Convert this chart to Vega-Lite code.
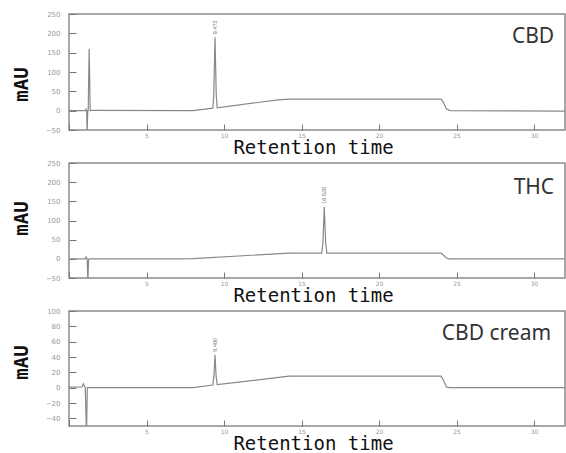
{
  "$schema": "https://vega.github.io/schema/vega-lite/v6.json",
  "padding": {"left": 11, "top": 9, "right": 0, "bottom": 0},
  "spacing": 33,
  "bounds": "flush",
  "config": {
    "view": {"stroke": "#8c8c8c", "strokeWidth": 1.5},
    "axis": {"domain": false, "tickColor": "#777", "tickWidth": 1, "labelColor": "#999", "labelFont": "DejaVu Sans", "labelFontSize": 6, "grid": false, "labelFlush": false, "labelOverlap": false},
    "axisX": {"offset": -6, "tickSize": 6, "labelPadding": 2, "titleFont": "DejaVu Sans Mono", "titleFontSize": 19, "titleFontWeight": "normal", "titleColor": "#111", "titlePadding": 0, "titleX": 244, "titleAlign": "center", "labelExpr": "datum.value == 0 ? '' : datum.label"},
    "axisY": {"offset": -7, "tickSize": 7, "labelPadding": 9, "labelFontSize": 7, "titleFont": "DejaVu Sans Mono", "titleFontSize": 19, "titleFontWeight": "bold", "titleColor": "#111", "titlePadding": 14}
  },
  "datasets": {
    "cbd": [
      {"t": 0, "v": 0}, {"t": 1.05, "v": 0}, {"t": 1.1, "v": 4}, {"t": 1.14, "v": 0}, {"t": 1.17, "v": -60}, {"t": 1.21, "v": 0},
      {"t": 1.24, "v": 0}, {"t": 1.3, "v": 160}, {"t": 1.37, "v": 0}, {"t": 1.5, "v": 1}, {"t": 8, "v": 0},
      {"t": 9.28, "v": 6.5}, {"t": 9.34, "v": 40}, {"t": 9.42, "v": 190}, {"t": 9.5, "v": 40}, {"t": 9.56, "v": 7.5},
      {"t": 13.5, "v": 28}, {"t": 14.2, "v": 30}, {"t": 24.0, "v": 30}, {"t": 24.15, "v": 22}, {"t": 24.35, "v": 4},
      {"t": 24.6, "v": 0}, {"t": 32, "v": -1}
    ],
    "thc": [
      {"t": 0, "v": 0}, {"t": 1.05, "v": 0}, {"t": 1.1, "v": 5}, {"t": 1.17, "v": 0}, {"t": 1.22, "v": -60},
      {"t": 1.26, "v": -2}, {"t": 1.32, "v": 0}, {"t": 7, "v": 0}, {"t": 8, "v": 0.5}, {"t": 14.2, "v": 15},
      {"t": 16.3, "v": 15}, {"t": 16.38, "v": 40}, {"t": 16.47, "v": 136}, {"t": 16.56, "v": 40}, {"t": 16.64, "v": 15},
      {"t": 24.0, "v": 15}, {"t": 24.15, "v": 10}, {"t": 24.35, "v": 2}, {"t": 24.5, "v": 0}, {"t": 32, "v": 0}
    ],
    "cream": [
      {"t": 0, "v": 0.8}, {"t": 0.85, "v": 1}, {"t": 0.93, "v": 5}, {"t": 1.05, "v": 0}, {"t": 1.13, "v": -60},
      {"t": 1.18, "v": 0}, {"t": 8, "v": 0}, {"t": 9.28, "v": 3.5}, {"t": 9.35, "v": 15}, {"t": 9.42, "v": 43},
      {"t": 9.49, "v": 15}, {"t": 9.56, "v": 4}, {"t": 14.2, "v": 15}, {"t": 24.0, "v": 15}, {"t": 24.15, "v": 10},
      {"t": 24.35, "v": 1}, {"t": 24.55, "v": 0}, {"t": 32, "v": 0}
    ],
    "cbdpk": [{"t": 9.42, "v": 190, "label": "9.472"}],
    "thcpk": [{"t": 16.47, "v": 136, "label": "16.528"}],
    "creampk": [{"t": 9.42, "v": 43, "label": "9.480"}]
  },
  "vconcat": [
    {
      "width": 496, "height": 116,
      "layer": [
        {"data": {"name": "cbd"}, "mark": {"type": "line", "color": "#888", "strokeWidth": 1.2, "clip": true},
         "encoding": {
           "x": {"field": "t", "type": "quantitative", "scale": {"domain": [0, 32], "nice": false}, "axis": {"tickCount": 6, "title": "Retention time"}},
           "y": {"field": "v", "type": "quantitative", "scale": {"domain": [-50, 250], "nice": false}, "axis": {"tickCount": 6, "title": "mAU", "titleY": 70}}
         }},
        {"data": {"values": [{"name": "CBD"}]}, "mark": {"type": "text", "align": "right", "baseline": "alphabetic", "font": "Noto Sans", "fontSize": 21, "color": "#333"},
         "encoding": {"x": {"datum": 31.3, "type": "quantitative"}, "y": {"datum": 175, "type": "quantitative"}, "text": {"field": "name"}}},
        {"data": {"name": "cbdpk"}, "mark": {"type": "text", "angle": 270, "align": "left", "baseline": "middle", "dx": 3, "fontSize": 5.5, "color": "#777"},
         "encoding": {"x": {"field": "t", "type": "quantitative"}, "y": {"field": "v", "type": "quantitative"}, "text": {"field": "label"}}}
      ]
    },
    {
      "width": 496, "height": 115,
      "layer": [
        {"data": {"name": "thc"}, "mark": {"type": "line", "color": "#888", "strokeWidth": 1.2, "clip": true},
         "encoding": {
           "x": {"field": "t", "type": "quantitative", "scale": {"domain": [0, 32], "nice": false}, "axis": {"tickCount": 6, "title": "Retention time"}},
           "y": {"field": "v", "type": "quantitative", "scale": {"domain": [-50, 250], "nice": false}, "axis": {"tickCount": 6, "title": "mAU", "titleY": 55}}
         }},
        {"data": {"values": [{"name": "THC"}]}, "mark": {"type": "text", "align": "right", "baseline": "alphabetic", "font": "Noto Sans", "fontSize": 21, "color": "#333"},
         "encoding": {"x": {"datum": 31.3, "type": "quantitative"}, "y": {"datum": 169, "type": "quantitative"}, "text": {"field": "name"}}},
        {"data": {"name": "thcpk"}, "mark": {"type": "text", "angle": 270, "align": "left", "baseline": "middle", "dx": 3, "fontSize": 5.5, "color": "#777"},
         "encoding": {"x": {"field": "t", "type": "quantitative"}, "y": {"field": "v", "type": "quantitative"}, "text": {"field": "label"}}}
      ]
    },
    {
      "width": 496, "height": 115,
      "layer": [
        {"data": {"name": "cream"}, "mark": {"type": "line", "color": "#888", "strokeWidth": 1.2, "clip": true},
         "encoding": {
           "x": {"field": "t", "type": "quantitative", "scale": {"domain": [0, 32], "nice": false}, "axis": {"tickCount": 6, "title": "Retention time"}},
           "y": {"field": "v", "type": "quantitative", "scale": {"domain": [-50, 100], "nice": false}, "axis": {"tickCount": 8, "title": "mAU", "titleY": 51}}
         }},
        {"data": {"values": [{"name": "CBD cream"}]}, "mark": {"type": "text", "align": "right", "baseline": "alphabetic", "font": "Noto Sans", "fontSize": 21, "color": "#333"},
         "encoding": {"x": {"datum": 31.1, "type": "quantitative"}, "y": {"datum": 62, "type": "quantitative"}, "text": {"field": "name"}}},
        {"data": {"name": "creampk"}, "mark": {"type": "text", "angle": 270, "align": "left", "baseline": "middle", "dx": 3, "fontSize": 5.5, "color": "#777"},
         "encoding": {"x": {"field": "t", "type": "quantitative"}, "y": {"field": "v", "type": "quantitative"}, "text": {"field": "label"}}}
      ]
    }
  ]
}
